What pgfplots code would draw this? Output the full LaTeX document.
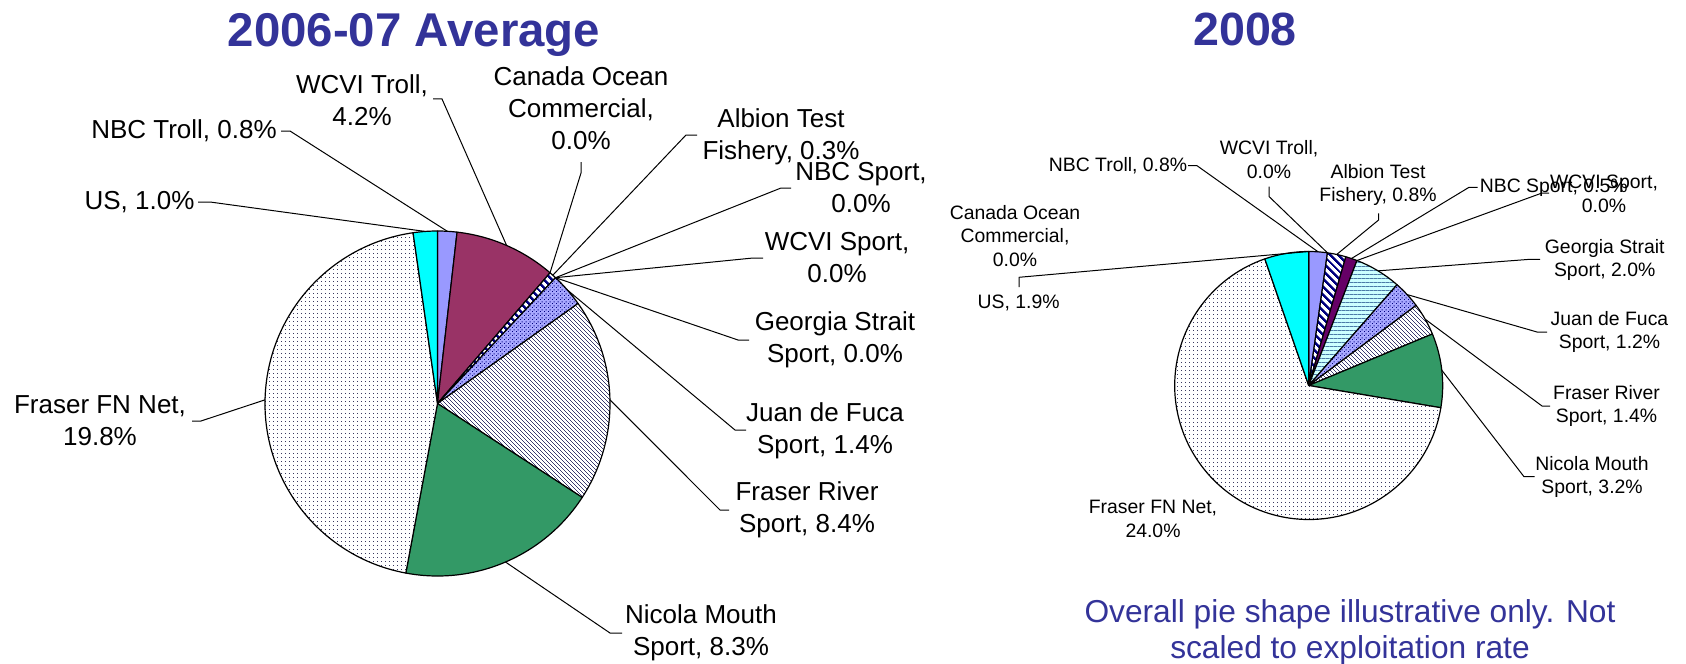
\documentclass[border=0pt]{standalone}
\usepackage{pgfplots}
\pgfplotsset{compat=1.18}
\usepackage{pgfplotstable}
\usepackage{fontspec}
\setmainfont{Liberation Sans}
\usetikzlibrary{patterns,patterns.meta}

\definecolor{cTitle}{HTML}{333399}
\definecolor{cPeri}{HTML}{9999FF}
\definecolor{cMaroon}{HTML}{993366}
\definecolor{cNavy}{HTML}{000080}
\definecolor{cPurple}{HTML}{660066}
\definecolor{cPaleCyan}{HTML}{CCFFFF}
\definecolor{cGSLine}{HTML}{4A7AA8}
\definecolor{cFRSLine}{HTML}{3C3C70}
\definecolor{cGreen}{HTML}{339966}
\definecolor{cDots}{HTML}{3A3A60}
\definecolor{cCyan}{HTML}{00FFFF}

\tikzdeclarepattern{name=pAlb, type=uncolored, bottom left={(0,0)}, top right={(3bp,3bp)}, tile size={(3bp,3bp)}, tile transformation={rotate=-45},
  code={\pgfpathrectangle{\pgfpoint{-0.2bp}{0bp}}{\pgfpoint{3.4bp}{1.5bp}}\pgfusepath{fill}}}
\tikzdeclarepattern{name=pFRS, type=uncolored, bottom left={(0,0)}, top right={(1.6bp,1.6bp)}, tile size={(1.6bp,1.6bp)}, tile transformation={rotate=-45},
  code={\pgfpathrectangle{\pgfpoint{-0.1bp}{0bp}}{\pgfpoint{1.8bp}{0.45bp}}\pgfusepath{fill}}}
\tikzdeclarepattern{name=pGS, type=uncolored, bottom left={(0,0)}, top right={(2.1bp,2.1bp)}, tile size={(2.1bp,2.1bp)},
  code={\pgfpathrectangle{\pgfpoint{-0.1bp}{0bp}}{\pgfpoint{2.3bp}{0.5bp}}\pgfusepath{fill}}}
\tikzdeclarepattern{name=pJDF, type=uncolored, bottom left={(0,0)}, top right={(2bp,2bp)}, tile size={(2bp,2bp)},
  code={\pgfpathrectangle{\pgfpoint{0bp}{0bp}}{\pgfpoint{0.6bp}{0.6bp}}\pgfpathrectangle{\pgfpoint{1bp}{1bp}}{\pgfpoint{0.6bp}{0.6bp}}\pgfusepath{fill}}}
\tikzdeclarepattern{name=pFFN, type=uncolored, bottom left={(0,0)}, top right={(2.15bp,2.15bp)}, tile size={(2.15bp,2.15bp)},
  code={\pgfpathrectangle{\pgfpoint{0bp}{0bp}}{\pgfpoint{0.55bp}{0.55bp}}\pgfusepath{fill}}}

\tikzset{
  wedge/.style={draw=black, line width=0.6bp, line join=round},
  sNBCT/.style={wedge, fill=cPeri},
  sWCVIT/.style={wedge, fill=cMaroon},
  sCOC/.style={wedge, fill=white},
  sALB/.style={wedge, preaction={fill=white}, pattern=pAlb, pattern color=cNavy},
  sNBCS/.style={wedge, fill=cPurple},
  sWCVIS/.style={wedge, fill=white},
  sGS/.style={wedge, preaction={fill=cPaleCyan}, pattern=pGS, pattern color=cGSLine},
  sJDF/.style={wedge, preaction={fill=cPeri!85!white}, pattern=pJDF, pattern color=cNavy},
  sFRS/.style={wedge, preaction={fill=white}, pattern=pFRS, pattern color=cFRSLine},
  sNM/.style={wedge, fill=cGreen},
  sFFN/.style={wedge, preaction={fill=white}, pattern=pFFN, pattern color=cDots},
  sUS/.style={wedge, fill=cCyan},
  leader/.style={draw=black, line width=0.5bp},
  lbl/.style={font=\fontsize{13bp}{16bp}\selectfont, align=center, inner sep=0pt},
  rlbl/.style={font=\fontsize{9.7bp}{11.75bp}\selectfont, align=center, inner sep=0pt},
  ttl/.style={anchor=base, text=cTitle, inner sep=0pt},
}

% 2006-07 Average (share of exploitation, %), clockwise from 12 o'clock
\pgfplotstableread{
value style lead ex ey hx hy
0.8 sNBCT 1 290 131 281 131
4.2 sWCVIT 1 442 99 433 99
0.0 sCOC 1 581 173 581 162
0.3 sALB 1 686 135 697 135
0.0 sNBCS 1 781 188 791 188
0.0 sWCVIS 1 753 258 763 258
0.0 sGS 1 738 340 749 340
1.4 sJDF 1 735 430 746 430
8.4 sFRS 1 720 510 729 510
8.3 sNM 1 610 633 622 633
19.8 sFFN 1 201 421 192 421
1.0 sUS 1 210 202 198 202
}\leftdata

% 2008
\pgfplotstableread{
value style lead ex ey hx hy
0.8 sNBCT 1 1197 165.7 1188 165.7
0.0 sWCVIT 1 1269.2 196.7 1269.2 186.7
0.8 sALB 1 1378.6 220 1378.6 213.3
0.5 sNBCS 1 1469 187.3 1477.6 187.3
0.0 sWCVIS 1 1542 193 1549 193
2.0 sGS 1 1530 259.3 1540 259.3
1.2 sJDF 1 1537 332 1547 332
1.4 sFRS 1 1542 406 1550 406
3.2 sNM 1 1524 476.7 1534.7 476.7
24.0 sFFN 0 0 0 0 0
1.9 sUS 0 0 0 0 0
0.0 sCOC 0 0 0 0 0
}\rightdata

% #1 table, #2 cx, #3 cy, #4 radius (axis units = px), #5 total
\newcommand\drawpie[5]{%
  \pgfplotstablegetrowsof{#1}\pgfmathtruncatemacro\nlast{\pgfplotsretval-1}%
  \pgfmathsetmacro\rr{#4*0.5}%
  \def\cum{0}%
  \pgfplotsforeachungrouped \i in {0,...,\nlast}{%
    \pgfplotstablegetelem{\i}{value}\of{#1}\let\pv\pgfplotsretval
    \pgfplotstablegetelem{\i}{style}\of{#1}\let\ps\pgfplotsretval
    \pgfmathsetmacro\sa{90-\cum*360/#5}%
    \pgfmathsetmacro\da{\pv*360/#5}%
    \ifdim\pv pt>0pt
      \edef\cmd{\noexpand\path[\ps] (#2,#3) -- ++(\sa:\rr bp) arc[start angle=\sa, delta angle=-\da, radius=\rr bp] -- cycle;}%
      \cmd
    \fi
    \pgfmathsetmacro\cum{\cum+\pv}%
  }%
  \def\cum{0}%
  \pgfplotsforeachungrouped \i in {0,...,\nlast}{%
    \pgfplotstablegetelem{\i}{value}\of{#1}\let\pv\pgfplotsretval
    \pgfplotstablegetelem{\i}{lead}\of{#1}\let\pl\pgfplotsretval
    \pgfplotstablegetelem{\i}{ex}\of{#1}\let\pex\pgfplotsretval
    \pgfplotstablegetelem{\i}{ey}\of{#1}\let\pey\pgfplotsretval
    \pgfplotstablegetelem{\i}{hx}\of{#1}\let\phx\pgfplotsretval
    \pgfplotstablegetelem{\i}{hy}\of{#1}\let\phy\pgfplotsretval
    \pgfmathsetmacro\ma{90-(\cum+\pv/2)*360/#5}%
    \pgfmathsetmacro\edx{#2+#4*cos(\ma)}%
    \pgfmathsetmacro\edy{#3-#4*sin(\ma)}%
    \ifnum\pl=1
      \edef\cmd{\noexpand\draw[leader] (\edx,\edy) -- (\pex,\pey) -- (\phx,\phy);}%
      \cmd
    \fi
    \pgfmathsetmacro\cum{\cum+\pv}%
  }%
}

\begin{document}
\begin{tikzpicture}
\begin{axis}[
  at={(0,0)}, anchor=south west,
  width=843bp, height=332bp, scale only axis,
  xmin=0, xmax=1686, ymin=0, ymax=664, y dir=reverse,
  enlargelimits=false, hide axis, clip=false]

\drawpie{\leftdata}{437.5}{403.5}{172.5}{44.2}
\drawpie{\rightdata}{1308.7}{385.5}{134}{35.8}

% titles
\node[ttl, font=\bfseries\fontsize{23.7bp}{28bp}\selectfont] at (414,46.7) {2006-07 Average};
\node[ttl, font=\bfseries\fontsize{23.3bp}{28bp}\selectfont] at (1245,45.5) {2008};

% left labels
\node[lbl] at (184,131) {NBC Troll, 0.8\%};
\node[lbl] at (139.5,202) {US, 1.0\%};
\node[lbl] at (362,100) {WCVI Troll,\\4.2\%};
\node[lbl] at (581,108.5) {Canada Ocean\\Commercial,\\0.0\%};
\node[lbl] at (781,136.5) {Albion Test\\Fishery, 0.3\%};
\node[lbl] at (861,188) {NBC Sport,\\0.0\%};
\node[lbl] at (837,258) {WCVI Sport,\\0.0\%};
\node[lbl] at (835,340) {Georgia Strait\\Sport, 0.0\%};
\node[lbl] at (825,431) {Juan de Fuca\\Sport, 1.4\%};
\node[lbl] at (807,510) {Fraser River\\Sport, 8.4\%};
\node[lbl] at (701,633) {Nicola Mouth\\Sport, 8.3\%};
\node[lbl] at (100,421) {Fraser FN Net,\\19.8\%};

% right labels
\node[rlbl] at (1118,165.7) {NBC Troll, 0.8\%};
\node[rlbl] at (1269,159.7) {WCVI Troll,\\0.0\%};
\node[rlbl] at (1378,185) {Albion Test\\Fishery, 0.8\%};
\node[rlbl] at (1553.7,187.3) {NBC Sport, 0.5\%};
\node[rlbl] at (1604,193.8) {WCVI Sport,\\0.0\%};
\node[rlbl] at (1604.7,260) {Georgia Strait\\Sport, 2.0\%};
\node[rlbl] at (1609.5,332) {Juan de Fuca\\Sport, 1.2\%};
\node[rlbl] at (1606.5,406) {Fraser River\\Sport, 1.4\%};
\node[rlbl] at (1592,477) {Nicola Mouth\\Sport, 3.2\%};
\node[rlbl] at (1153,519) {Fraser FN Net,\\24.0\%};
\node[rlbl] at (1018.6,303.3) {US, 1.9\%};
\node[rlbl] at (1015,236) {Canada Ocean\\Commercial,\\0.0\%};
\draw[leader] (1019,287) -- (1019,277.3) -- (1308.7,251.5);

% note
\node[align=center, inner sep=0pt, font=\fontsize{15.85bp}{17.8bp}\selectfont, text=cTitle] at (1350,632) {Overall pie shape illustrative only. Not\\scaled to exploitation rate};
\end{axis}
\pgfresetboundingbox
\path[use as bounding box] (0,0) rectangle (843bp,332bp);
\end{tikzpicture}
\end{document}
